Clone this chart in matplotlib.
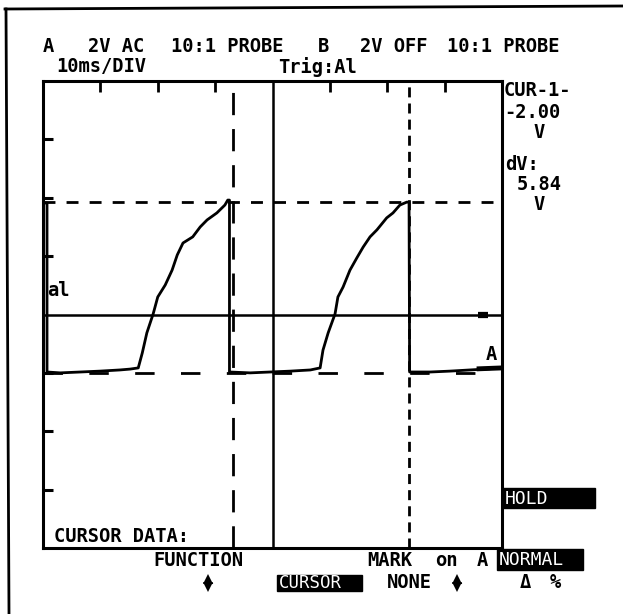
import matplotlib
matplotlib.use("Agg")
import matplotlib.pyplot as plt
from matplotlib.patches import Rectangle

# scope settings: 10 ms/div, 2 V/div, 8 x 8 divisions
t_div = 10.0
v_div = 2.0
n_div = 8

# trace A (ms, V)
t_ms = [0.0, 0.7, 0.7, 3.0, 6.5, 9.9, 13.4, 15.2, 16.6, 17.3, 18.1, 19.2, 20.0,
        21.3, 22.5, 23.4, 24.4, 26.1, 27.4, 28.6, 30.3, 31.7, 32.2, 32.5, 32.5,
        36.1, 39.6, 43.1, 46.6, 48.3, 48.8, 49.7, 50.9, 51.4, 52.3, 53.5, 54.7,
        55.8, 57.0, 58.2, 59.9, 61.0, 62.2, 63.4, 63.8, 63.9, 67.5, 70.9, 74.4,
        77.0, 80.0]
volts = [3.82, 3.82, -1.97, -2.00, -1.97, -1.94, -1.90, -1.87, -1.83, -1.32,
         -0.63, 0.02, 0.60, 1.01, 1.52, 2.04, 2.45, 2.66, 3.00, 3.24, 3.48,
         3.75, 3.92, 3.92, -1.97, -2.00, -1.97, -1.94, -1.90, -1.83, -1.22,
         -0.63, 0.02, 0.60, 0.94, 1.52, 1.94, 2.31, 2.66, 2.90, 3.31, 3.48,
         3.75, 3.85, 3.85, -1.97, -1.97, -1.94, -1.90, -1.87, -1.83]

cur_v1 = -2.00   # CUR-1-
dv = 5.84        # dV
cur_t = [33.2, 63.8]
trig_level = 0.0

W, H = 623, 614
fig = plt.figure(figsize=(W / 100, H / 100), dpi=100)
fig.patch.set_facecolor("white")

# screen area in pixels
x0, x1, y0, y1 = 43, 502, 81, 548
ax = fig.add_axes([x0 / W, 1 - y1 / H, (x1 - x0) / W, (y1 - y0) / H])
tmax = t_div * n_div
vmax = v_div * n_div / 2
ax.set_xlim(0, tmax)
ax.set_ylim(-vmax, vmax)
ax.set_xticks([])
ax.set_yticks([])
for s in ax.spines.values():
    s.set_linewidth(2.2)

# graticule ticks and centre lines
for k in range(1, n_div):
    t = k * t_div
    if k != n_div // 2:
        ax.plot([t, t], [vmax, vmax - 0.38], color="black", lw=2, solid_capstyle="butt")
    v = -vmax + k * v_div
    if k != n_div // 2:
        ax.plot([0, 1.7], [v, v], color="black", lw=2.2, solid_capstyle="butt")
ax.axvline(tmax / 2, color="black", lw=1.8)
ax.axhline(trig_level, color="black", lw=1.8)
ax.plot([75.8, 77.6], [trig_level, trig_level], color="black", lw=4.5, solid_capstyle="butt")

# cursors
ax.axhline(cur_v1 + dv, color="black", lw=2, dashes=(4.3, 4.0))
ax.axhline(cur_v1, color="black", lw=2, dashes=(7, 9.5))
ax.axvline(cur_t[0], color="black", lw=2, dashes=(8, 5))
ax.axvline(cur_t[1], color="black", lw=2, dashes=(3.6, 2.2))

# trace
ax.plot(t_ms, volts, color="black", lw=2.0)
ax.plot([76.0, 80.0], [-1.86, -1.83], color="black", lw=3.5)

# overlay in pixel coords for frame and text
ov = fig.add_axes([0, 0, 1, 1])
ov.set_xlim(0, W)
ov.set_ylim(H, 0)
ov.axis("off")
ov.patch.set_alpha(0)
ov.plot([5, 623], [9, 6], color="black", lw=2)
ov.plot([6, 9], [9, 614], color="black", lw=2)

font = dict(family="DejaVu Sans Mono", fontsize=13.5, fontweight="bold",
            va="center", ha="left", color="black")

top_texts = [("A", 43, 46), ("2V AC", 88, 46), ("10:1 PROBE", 171, 46),
             ("B", 318, 46), ("2V OFF", 360, 46), ("10:1 PROBE", 447, 46),
             ("10ms/DIV", 56, 67), ("Trig:Al", 278, 67),
             ("CUR-1-", 504, 91), ("-2.00", 504, 112), ("V", 533, 133),
             ("dV:", 505, 164), ("5.84", 517, 184), ("V", 533, 205),
             ("al", 47, 290), ("A", 486, 355),
             ("CURSOR DATA:", 54, 536), ("FUNCTION", 153, 560),
             ("MARK", 367, 561), ("on", 435, 561), ("A", 477, 561),
             ("NONE", 387, 582), ("Δ", 520, 582), ("%", 550, 582)]
for s, x, y in top_texts:
    ov.text(x, y, s, **font)

# inverse video boxes
boxes = [("HOLD", 503, 488, 92, 20, 13), ("NORMAL", 497, 549, 86, 21, 13),
         ("CURSOR", 277, 575, 85, 16, 12.5)]
for s, x, y, w, h, fs in boxes:
    ov.add_patch(Rectangle((x, y), w, h, color="black"))
    ov.text(x + 2, y + h / 2 + 0.5, s, family="DejaVu Sans Mono", fontsize=fs,
            color="white", va="center", ha="left")

# up/down arrows
for x in (208, 457):
    ov.plot([x], [578.5], marker="^", color="black", ms=6.5, mew=0)
    ov.plot([x - 4, x + 4], [582.5, 582.5], color="black", lw=0.8)
    ov.plot([x], [586.5], marker="v", color="black", ms=6.5, mew=0)

fig.savefig("out.png", dpi=100)
